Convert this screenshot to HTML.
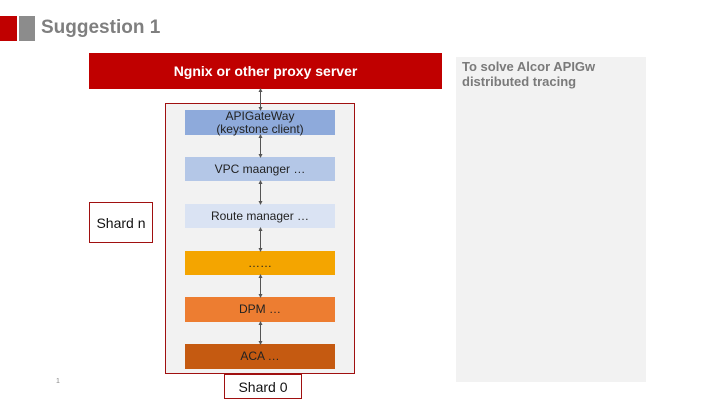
<!DOCTYPE html>
<html><head><style>
body{margin:0;width:720px;height:405px;background:#fff;position:relative;overflow:hidden;font-family:"Liberation Sans",sans-serif}
.a{position:absolute;box-sizing:border-box}
.b{left:185px;width:150px;display:flex;align-items:center;justify-content:center;text-align:center;font-size:12px;color:#222;line-height:13px}
</style></head><body>
<div class="a" style="left:0;top:16px;width:17px;height:25px;background:#c00000"></div>
<div class="a" style="left:19px;top:16px;width:16px;height:25px;background:#8c8c8c"></div>
<div class="a" style="left:41px;top:16px;font-size:19px;font-weight:bold;color:#7f7f7f;line-height:24px">Suggestion 1</div>
<div class="a" style="left:89px;top:53px;width:353px;height:36px;background:#c00000;color:#fff;font-weight:bold;font-size:14px;display:flex;align-items:center;justify-content:center">Ngnix or other proxy server</div>
<div class="a" style="left:456px;top:57px;width:190px;height:325px;background:#f2f2f2;padding:2px 6px;font-weight:bold;font-size:13px;color:#7a7a7a;line-height:15px">To solve Alcor APIGw<br>distributed tracing</div>
<div class="a" style="left:165px;top:103px;width:190px;height:271px;background:#f2f2f2;border:1px solid #a01010"></div>
<div class="a b" style="top:110px;height:25px;background:#8eaadb">APIGateWay<br>(keystone client)</div>
<div class="a b" style="top:157px;height:24px;background:#b4c7e7">VPC maanger …</div>
<div class="a b" style="top:204px;height:24px;background:#dae3f3">Route manager …</div>
<div class="a b" style="top:251px;height:24px;background:#f4a500">……</div>
<div class="a b" style="top:297px;height:25px;background:#ed7d31">DPM …</div>
<div class="a b" style="top:344px;height:25px;background:#c55a11">ACA …</div>
<svg class="a" style="left:0;top:0" width="720" height="405">
<defs><marker id="m" markerWidth="4" markerHeight="4" refX="2" refY="2" orient="auto-start-reverse" markerUnits="userSpaceOnUse"><path d="M0,0L4,2L0,4z" fill="#555"/></marker></defs>
<g stroke="#555" stroke-width="1">
<line x1="260.5" y1="90" x2="260.5" y2="109" marker-start="url(#m)" marker-end="url(#m)"/>
<line x1="260.5" y1="136" x2="260.5" y2="156" marker-start="url(#m)" marker-end="url(#m)"/>
<line x1="260.5" y1="182" x2="260.5" y2="203" marker-start="url(#m)" marker-end="url(#m)"/>
<line x1="260.5" y1="229" x2="260.5" y2="250" marker-start="url(#m)" marker-end="url(#m)"/>
<line x1="260.5" y1="276" x2="260.5" y2="296" marker-start="url(#m)" marker-end="url(#m)"/>
<line x1="260.5" y1="323" x2="260.5" y2="343" marker-start="url(#m)" marker-end="url(#m)"/>
</g></svg>
<div class="a" style="left:224px;top:374px;width:78px;height:25px;border:1px solid #a01010;background:#fff;font-size:14px;display:flex;align-items:center;justify-content:center;color:#111">Shard 0</div>
<div class="a" style="left:89px;top:202px;width:64px;height:41px;border:1px solid #a01010;background:#fff;font-size:14px;display:flex;align-items:center;justify-content:center;color:#111">Shard n</div>
<div class="a" style="left:56px;top:378px;font-size:7px;color:#888">1</div>
</body></html>
